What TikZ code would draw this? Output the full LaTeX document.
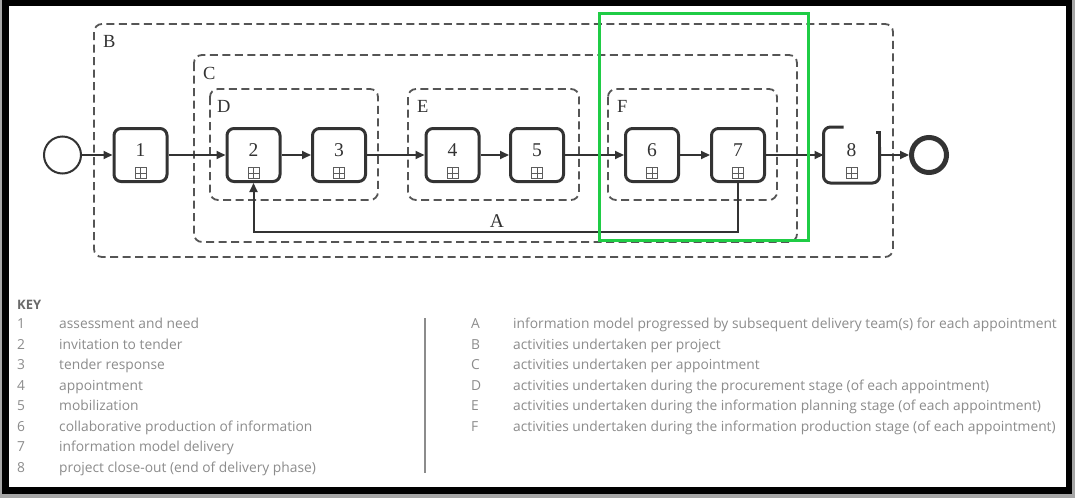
\documentclass[tikz,border=0pt]{standalone}
\usepackage{fontspec}
\newfontfamily\keyfont{Open Sans}
\newfontfamily\figfont{Liberation Serif}
\usetikzlibrary{arrows.meta}

\definecolor{ink}{HTML}{333333}
\definecolor{grp}{HTML}{555555}
\definecolor{keygray}{HTML}{8C8C8C}
\definecolor{keyhead}{HTML}{6A6A6A}
\definecolor{hilite}{HTML}{1FCC45}

\tikzset{
  task/.style={draw=ink, line width=3pt, rounded corners=7pt, fill=white,
    minimum width=53pt, minimum height=53pt, inner sep=0pt},
  taskopen/.style={task, draw=none},
  num/.style={inner sep=0pt, text=ink, font=\figfont\fontsize{19.5}{22}\selectfont},
  expand/.style={draw=ink!80, line width=0.8pt, minimum size=11pt, inner sep=0pt,
    path picture={\draw[ink!80, line width=0.8pt]
      (path picture bounding box.north) -- (path picture bounding box.south)
      (path picture bounding box.west) -- (path picture bounding box.east);}},
  flow/.style={draw=ink, line width=2pt, -{Triangle[length=9pt,width=8pt]}},
  group/.style={draw=grp, line width=1.8pt, dash pattern=on 8pt off 4.5pt,
    rounded corners=8pt},
  grplabel/.style={anchor=base west, inner sep=0pt, text=ink,
    font=\figfont\fontsize{18.5}{22}\selectfont},
  keytext/.style={anchor=base west, inner sep=0pt, text=keygray,
    font=\keyfont\fontsize{13.8}{16}\selectfont},
  keyhead/.style={anchor=base west, inner sep=0pt, text=keyhead,
    font=\keyfont\bfseries\fontsize{13}{15}\selectfont},
}

\begin{document}
\begin{tikzpicture}[x=1pt, y=-1pt]
  \useasboundingbox (0,0) rectangle (1075,498);

  % framed panel with drop shadow
  \fill[black!35] (0,0) rectangle (1075,498);
  \fill[black] (2,0) rectangle (1072,494);
  \fill[white] (9,6) rectangle (1066,487);

  % nested scopes (dashed groups)
  \draw[group] (94,24) rectangle (893,257);
  \draw[group] (194,55) rectangle (797,242);
  \draw[group] (210,89) rectangle (378,200);
  \draw[group] (408,89) rectangle (579,200);
  \draw[group] (608,89) rectangle (777,200);
  \node[grplabel] (lB) at (103,47) {B};
  \node[grplabel] (lC) at (203,79.5) {C};
  \node[grplabel] (lD) at (217,112.5) {D};
  \node[grplabel] (lE) at (417,112.5) {E};
  \node[grplabel] (lF) at (617,112.5) {F};

  % events
  \node[circle, draw=ink, line width=2pt, minimum size=37pt, inner sep=0pt] (start) at (62.5,155) {};
  \node[circle, draw=ink, line width=5pt, minimum size=35pt, inner sep=0pt] (end) at (929,155) {};

  % sub-process tasks
  \foreach \i/\x in {1/140.5, 2/253.5, 3/339, 4/452.5, 5/537, 6/652, 7/738} {
    \node[task] (b\i) at (\x,155) {};
  }
  \node[taskopen] (b8) at (851.5,155) {};
  \draw[ink, line width=3pt, rounded corners=7pt]
    ([xshift=20pt]b8.north west) -- (b8.north west) -- (b8.south west)
    -- (b8.south east) -- ([yshift=-20pt]b8.north east);
  \draw[ink, line width=3pt]
    ([yshift=-21pt]b8.north east) -- ([yshift=-5pt]b8.north east) -- ++(-4,0);

  \foreach \i/\x in {1/140.5, 2/253.5, 3/339, 4/452.5, 5/537, 6/652, 7/738, 8/851.5} {
    \node[num] (n\i) at (\x,150) {\i};
    \node[expand] (m\i) at (\x,173) {};
  }

  % sequence flow
  \draw[flow] (start) -- (b1);
  \draw[flow] (b1) -- (b2);
  \draw[flow] (b2) -- (b3);
  \draw[flow] (b3) -- (b4);
  \draw[flow] (b4) -- (b5);
  \draw[flow] (b5) -- (b6);
  \draw[flow] (b6) -- (b7);
  \draw[flow] (b7) -- (b8);
  \draw[flow] (b8) -- (end);

  % loop back for each appointment
  \coordinate (fb) at (497,232);
  \draw[flow] (b7.south) |- (fb) -| (b2.south);
  \node[num] (lA) at (497,221) {A};

  % highlight
  \draw[hilite, line width=3pt] (599,13) rectangle (808,240);

  % key
  \node[keyhead] (key) at (17,309) {KEY};
  \foreach \n/\t [count=\i from 0] in {
      1/assessment and need,
      2/invitation to tender,
      3/tender response,
      4/appointment,
      5/mobilization,
      6/collaborative production of information,
      7/information model delivery,
      8/project close-out (end of delivery phase)} {
    \node[keytext] (kn\n) at (17,{328.5+20.5*\i}) {\n};
    \node[keytext] (kt\n) at (59,{328.5+20.5*\i}) {\t};
  }
  \draw[keygray, line width=1.5pt] (425,318) -- (425,473);
  \foreach \n/\t [count=\i from 0] in {
      A/information model progressed by subsequent delivery team(s) for each appointment,
      B/activities undertaken per project,
      C/activities undertaken per appointment,
      D/activities undertaken during the procurement stage (of each appointment),
      E/activities undertaken during the information planning stage (of each appointment),
      F/activities undertaken during the information production stage (of each appointment)} {
    \node[keytext] (kl\n) at (471,{328.5+20.5*\i}) {\n};
    \node[keytext] (kd\n) at (513,{328.5+20.5*\i}) {\t};
  }
\end{tikzpicture}
\end{document}
